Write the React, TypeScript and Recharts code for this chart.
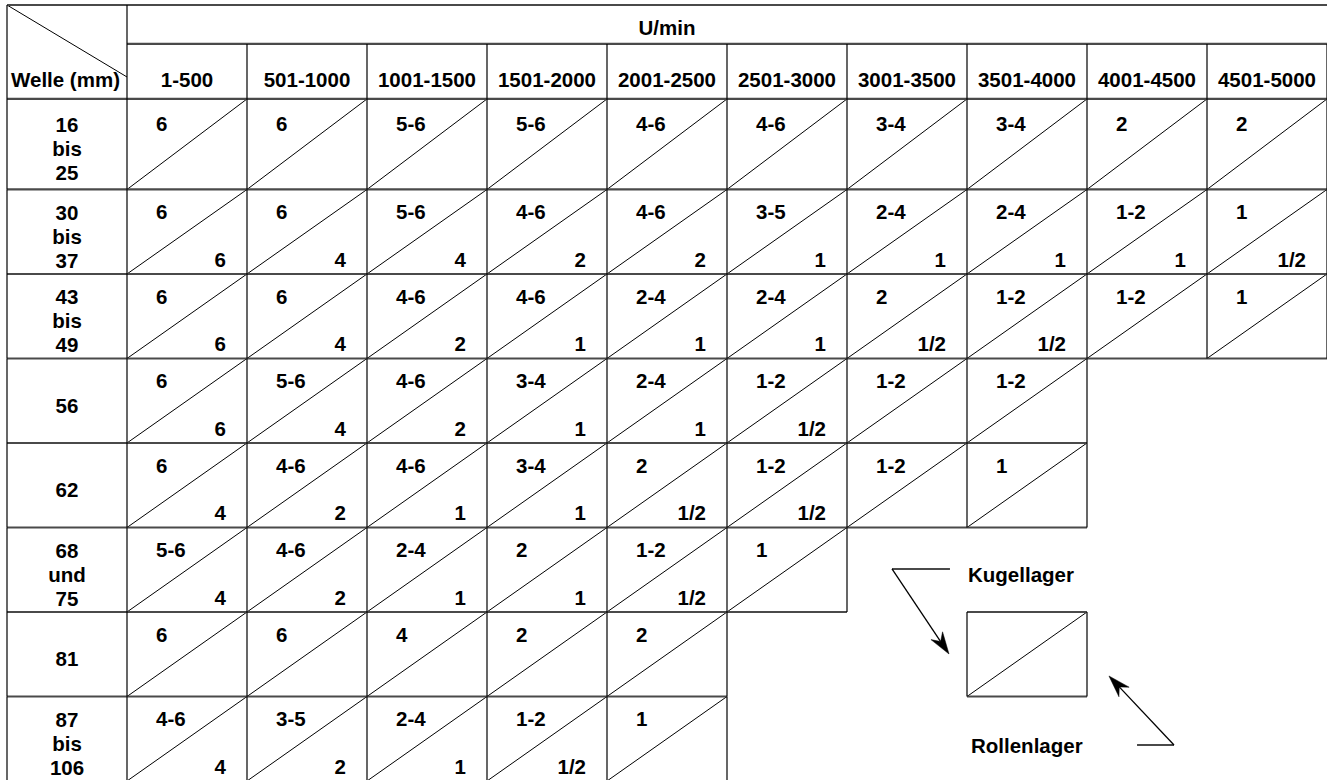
import React from 'react';
import { ScatterChart, Scatter, XAxis, YAxis, ReferenceLine } from 'recharts';

// ---- data ----
const columns = ['1-500', '501-1000', '1001-1500', '1501-2000', '2001-2500', '2501-3000', '3001-3500', '3501-4000', '4001-4500', '4501-5000'];
const headerTitle = 'U/min';
const cornerLabel = 'Welle (mm)';
const rowLabels = [['16', 'bis', '25'], ['30', 'bis', '37'], ['43', 'bis', '49'], ['56'], ['62'], ['68', 'und', '75'], ['81'], ['87', 'bis', '106']];
// upper-left value of each cell (Kugellager)
const kugellager = [
  ['6', '6', '5-6', '5-6', '4-6', '4-6', '3-4', '3-4', '2', '2'],
  ['6', '6', '5-6', '4-6', '4-6', '3-5', '2-4', '2-4', '1-2', '1'],
  ['6', '6', '4-6', '4-6', '2-4', '2-4', '2', '1-2', '1-2', '1'],
  ['6', '5-6', '4-6', '3-4', '2-4', '1-2', '1-2', '1-2'],
  ['6', '4-6', '4-6', '3-4', '2', '1-2', '1-2', '1'],
  ['5-6', '4-6', '2-4', '2', '1-2', '1'],
  ['6', '6', '4', '2', '2'],
  ['4-6', '3-5', '2-4', '1-2', '1'],
];
// lower-right value of each cell (Rollenlager)
const rollenlager = [
  ['', '', '', '', '', '', '', '', '', ''],
  ['6', '4', '4', '2', '2', '1', '1', '1', '1', '1/2'],
  ['6', '4', '2', '1', '1', '1', '1/2', '1/2', '', ''],
  ['6', '4', '2', '1', '1', '1/2', '', ''],
  ['4', '2', '1', '1', '1/2', '1/2', '', ''],
  ['4', '2', '1', '1', '1/2', ''],
  ['', '', '', '', ''],
  ['4', '2', '1', '1/2', ''],
];
const legendTop = 'Kugellager';
const legendBottom = 'Rollenlager';

// ---- layout constants (in axis units) ----
const Y_TOP = -1.183;
const Y_HDR = -0.722;
const Y_H2 = -0.071;
const LEG_COL = 7;
const LEG_ROW = 6;
const rowTop = (r: number) => (r === 0 ? Y_H2 : r);

type Seg = { x1: number; y1: number; x2: number; y2: number; kind: 'h' | 'v' | 'd' };

function buildSegments(): Seg[] {
  const map = new Map<string, Seg>();
  const add = (x1: number, y1: number, x2: number, y2: number, kind: 'h' | 'v' | 'd') => {
    const k = `${x1},${y1},${x2},${y2}`;
    if (!map.has(k)) map.set(k, { x1, y1, x2, y2, kind });
  };
  const cell = (c: number, r0: number, r1: number, diag: boolean) => {
    add(c, r0, c + 1, r0, 'h');
    add(c, r1, c + 1, r1, 'h');
    add(c, r0, c, r1, 'v');
    add(c + 1, r0, c + 1, r1, 'v');
    if (diag) add(c, r1, c + 1, r0, 'd');
  };
  // header
  add(-1, Y_TOP, 10, Y_TOP, 'h');
  add(0, Y_HDR, 10, Y_HDR, 'h');
  add(-1, Y_TOP, -1, Y_H2, 'v');
  add(0, Y_TOP, 0, Y_H2, 'v');
  for (let c = 1; c <= columns.length; c++) add(c, Y_HDR, c, Y_H2, 'v');
  // row label cells and data cells
  kugellager.forEach((row, r) => {
    cell(-1, rowTop(r), r + 1, false);
    row.forEach((_, c) => cell(c, rowTop(r), r + 1, true));
  });
  // legend box
  cell(LEG_COL, LEG_ROW, LEG_ROW + 1, true);
  return Array.from(map.values());
}

type TextItem = { x: number; y: number; lines: string[]; anchor: 'start' | 'middle' | 'end'; dy: number };

function buildTexts(): TextItem[] {
  const t: TextItem[] = [];
  t.push({ x: 4.5, y: Y_HDR, lines: [headerTitle], anchor: 'middle', dy: -9 });
  t.push({ x: -1 + 4 / 120, y: Y_H2, lines: [cornerLabel], anchor: 'start', dy: -12 });
  columns.forEach((c, i) => t.push({ x: i + 0.5, y: Y_H2, lines: [c], anchor: 'middle', dy: -12 }));
  rowLabels.forEach((lines, r) =>
    t.push({ x: -0.5, y: (rowTop(r) + r + 1) / 2, lines, anchor: 'middle', dy: 12 - 12 * (lines.length - 1) })
  );
  kugellager.forEach((row, r) =>
    row.forEach((v, c) => {
      if (v) t.push({ x: c + 29 / 120, y: rowTop(r), lines: [v], anchor: 'start', dy: r === 0 ? 32 : 30 });
    })
  );
  rollenlager.forEach((row, r) =>
    row.forEach((v, c) => {
      if (v) t.push({ x: c + 1 - 21 / 120, y: r + 1, lines: [v], anchor: 'end', dy: -7 });
    })
  );
  t.push({ x: LEG_COL + 1 / 120, y: LEG_ROW, lines: [legendTop], anchor: 'start', dy: -30 });
  t.push({ x: LEG_COL + 4 / 120, y: LEG_ROW + 1, lines: [legendBottom], anchor: 'start', dy: 57 });
  return t;
}

const FONT = '"Liberation Sans", Arial, Helvetica, sans-serif';

const TextShape = (props: any) => {
  const { cx, cy, payload } = props;
  if (cx == null || cy == null) return <g />;
  const p = payload as TextItem;
  return (
    <text
      x={cx}
      y={cy + p.dy}
      textAnchor={p.anchor}
      fontFamily={FONT}
      fontSize={20.5}
      fontWeight={700}
      fill="#000"
    >
      {p.lines.map((l, i) => (
        <tspan key={i} x={cx} dy={i === 0 ? 0 : 24}>
          {l}
        </tspan>
      ))}
    </text>
  );
};

const ArrowShape = (props: any) => {
  const { x1, y1, x2, y2 } = props;
  if ([x1, y1, x2, y2].some((v) => v == null || isNaN(v))) return <g />;
  const dx = x2 - x1;
  const dy = y2 - y1;
  const len = Math.sqrt(dx * dx + dy * dy) || 1;
  const ux = dx / len;
  const uy = dy / len;
  const nx = -uy;
  const ny = ux;
  const bx = x2 - 22 * ux;
  const by = y2 - 22 * uy;
  const mx = x2 - 15 * ux;
  const my = y2 - 15 * uy;
  const pts = [
    [x2, y2],
    [bx + 7 * nx, by + 7 * ny],
    [mx, my],
    [bx - 7 * nx, by - 7 * ny],
  ]
    .map((p) => p.join(','))
    .join(' ');
  return (
    <g>
      <line x1={x1} y1={y1} x2={mx} y2={my} stroke="#000" strokeWidth={1.3} />
      <polygon points={pts} fill="#000" stroke="#000" strokeWidth={0.5} />
    </g>
  );
};

export default function App() {
  const segs = buildSegments();
  const texts = buildTexts();
  const hSegs = segs.filter((s) => s.kind === 'h');
  const vSegs = segs.filter((s) => s.kind === 'v');
  const dSegs = segs.filter((s) => s.kind === 'd');
  return (
    <div style={{ position: 'absolute', left: 0, top: 0, width: 1327, height: 780, overflow: 'hidden', background: '#fff' }}>
      <ScatterChart width={1340} height={790} margin={{ top: 5, right: 13, bottom: 9, left: 7 }}>
        <XAxis type="number" dataKey="x" domain={[-1, 10]} hide allowDataOverflow />
        <YAxis type="number" dataKey="y" domain={[Y_TOP, 8]} reversed hide allowDataOverflow width={0} />
        {dSegs.map((s, i) => (
          <ReferenceLine
            key={'d' + i}
            segment={[{ x: s.x1, y: s.y1 }, { x: s.x2, y: s.y2 }]}
            stroke="#000"
            strokeWidth={1}
            ifOverflow="visible"
          />
        ))}
        {/* corner diagonal */}
        <ReferenceLine segment={[{ x: -1, y: Y_TOP }, { x: 0, y: -0.331 }]} stroke="#000" strokeWidth={1} ifOverflow="visible" />
        {hSegs.map((s, i) => (
          <ReferenceLine
            key={'h' + i}
            segment={[{ x: s.x1, y: s.y1 }, { x: s.x2, y: s.y2 }]}
            stroke="#4a4a4a"
            strokeWidth={2.2}
            ifOverflow="visible"
          />
        ))}
        {vSegs.map((s, i) => (
          <ReferenceLine
            key={'v' + i}
            segment={[{ x: s.x1, y: s.y1 }, { x: s.x2, y: s.y2 }]}
            stroke="#000"
            strokeWidth={1.2}
            ifOverflow="visible"
          />
        ))}
        {/* legend arrows */}
        <ReferenceLine segment={[{ x: 6.375, y: 5.491 }, { x: 6.858, y: 5.491 }]} stroke="#4a4a4a" strokeWidth={2} ifOverflow="visible" />
        <ReferenceLine segment={[{ x: 6.375, y: 5.491 }, { x: 6.85, y: 6.497 }]} ifOverflow="visible" shape={ArrowShape} />
        <ReferenceLine segment={[{ x: 8.417, y: 7.574 }, { x: 8.725, y: 7.574 }]} stroke="#4a4a4a" strokeWidth={2} ifOverflow="visible" />
        <ReferenceLine segment={[{ x: 8.725, y: 7.574 }, { x: 8.183, y: 6.757 }]} ifOverflow="visible" shape={ArrowShape} />
        <Scatter data={texts} shape={TextShape} isAnimationActive={false} />
      </ScatterChart>
    </div>
  );
}
